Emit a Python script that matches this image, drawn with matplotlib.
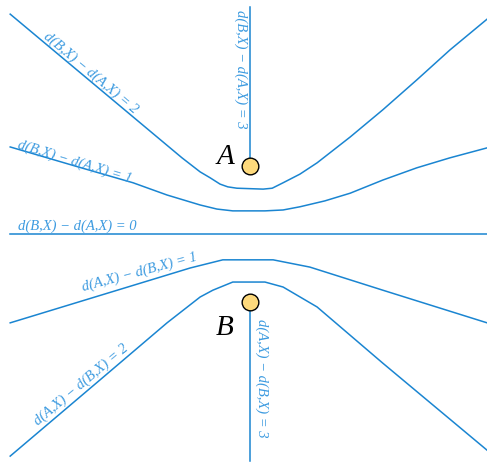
import matplotlib
matplotlib.use("Agg")
import matplotlib.pyplot as plt

# Level curves of d(B,X) - d(A,X) in the plane; A above, B below the origin.
focus_A = (0.0, 1.5)
focus_B = (0.0, -1.5)

# d(B,X) - d(A,X) = 2  (branch around A)
upper2_x = [-5.29, -1.50, -1.10, -0.88, -0.66, -0.49, -0.29, 0.29, 0.49, 0.73,
            1.10, 1.48, 2.21, 2.93, 3.68, 4.41, 5.23]
upper2_y = [4.85, 1.68, 1.37, 1.24, 1.10, 1.04, 1.01, 0.99, 1.01, 1.13,
            1.32, 1.57, 2.14, 2.74, 3.40, 4.06, 4.74]

# d(B,X) - d(A,X) = 1
upper1_x = [-5.29, -3.86, -2.58, -1.83, -1.10, -0.73, -0.38, 0.33, 0.73, 1.10,
            1.65, 2.21, 2.93, 3.68, 4.41, 5.23]
upper1_y = [1.92, 1.50, 1.13, 0.86, 0.64, 0.55, 0.51, 0.51, 0.53, 0.60,
            0.73, 0.90, 1.19, 1.46, 1.68, 1.90]

# d(B,X) - d(A,X) = 0  (bisector)
mid_x = [-5.29, 5.23]
mid_y = [0.0, 0.0]

# d(A,X) - d(B,X) = 1
lower1_x = [-5.29, -1.32, -0.60, 0.51, 1.32, 2.93, 5.23]
lower1_y = [-1.96, -0.75, -0.57, -0.57, -0.73, -1.24, -1.96]

# d(A,X) - d(B,X) = 2
lower2_x = [-5.29, -3.31, -1.83, -1.10, -0.82, -0.38, 0.33, 0.73, 1.48, 2.93, 5.23]
lower2_y = [-4.90, -3.22, -1.96, -1.39, -1.24, -1.06, -1.06, -1.17, -1.61, -2.85, -4.77]

# degenerate branches (difference = 3): rays from the foci
ray_top_y = [1.5, 5.01]
ray_bottom_y = [-1.5, -5.0]

labels = [
    ("d(B,X) − d(A,X) = 2", (-3.51, 3.55), -40),
    ("d(B,X) − d(A,X) = 1", (-3.86, 1.59), -17),
    ("d(B,X) − d(A,X) = 0", (-3.82, 0.16), 0),
    ("d(B,X) − d(A,X) = 3", (-0.20, 3.64), -90),
    ("d(A,X) − d(B,X) = 1", (-2.43, -0.84), 15),
    ("d(A,X) − d(B,X) = 2", (-3.73, -3.33), 40),
    ("d(A,X) − d(B,X) = 3", (0.26, -3.18), -90),
]

line_color = "#1a85d1"
text_color = "#3d9be0"

fig = plt.figure(figsize=(4.87, 4.62), dpi=100)
ax = fig.add_axes([0, 0, 1, 1])
ax.set_xlim(-5.515, 5.228)
ax.set_ylim(-5.03, 5.162)
ax.axis("off")

lw = 1.1
for xs, ys in [(upper2_x, upper2_y), (upper1_x, upper1_y), (mid_x, mid_y),
               (lower1_x, lower1_y), (lower2_x, lower2_y)]:
    ax.plot(xs, ys, color=line_color, lw=lw, solid_joinstyle="round")
ax.plot([focus_A[0]] * 2, ray_top_y, color=line_color, lw=lw)
ax.plot([focus_B[0]] * 2, ray_bottom_y, color=line_color, lw=lw)

for txt, (tx, ty), rot in labels:
    ax.text(tx, ty, txt, rotation=rot, rotation_mode="anchor",
            ha="center", va="center", color=text_color,
            family="Liberation Serif", style="italic", fontsize=10.5)

for (fx, fy), name in [(focus_A, "A"), (focus_B, "B")]:
    ax.plot(fx, fy, "o", ms=12, mfc="#fdd97c", mec="black", mew=1.0, zorder=5)

ax.text(-0.55, 1.70, "A", ha="center", va="center", family="Liberation Serif",
        style="italic", fontsize=21, color="black")
ax.text(-0.55, -2.07, "B", ha="center", va="center", family="Liberation Serif",
        style="italic", fontsize=21, color="black")

fig.savefig("out.png", dpi=100)
